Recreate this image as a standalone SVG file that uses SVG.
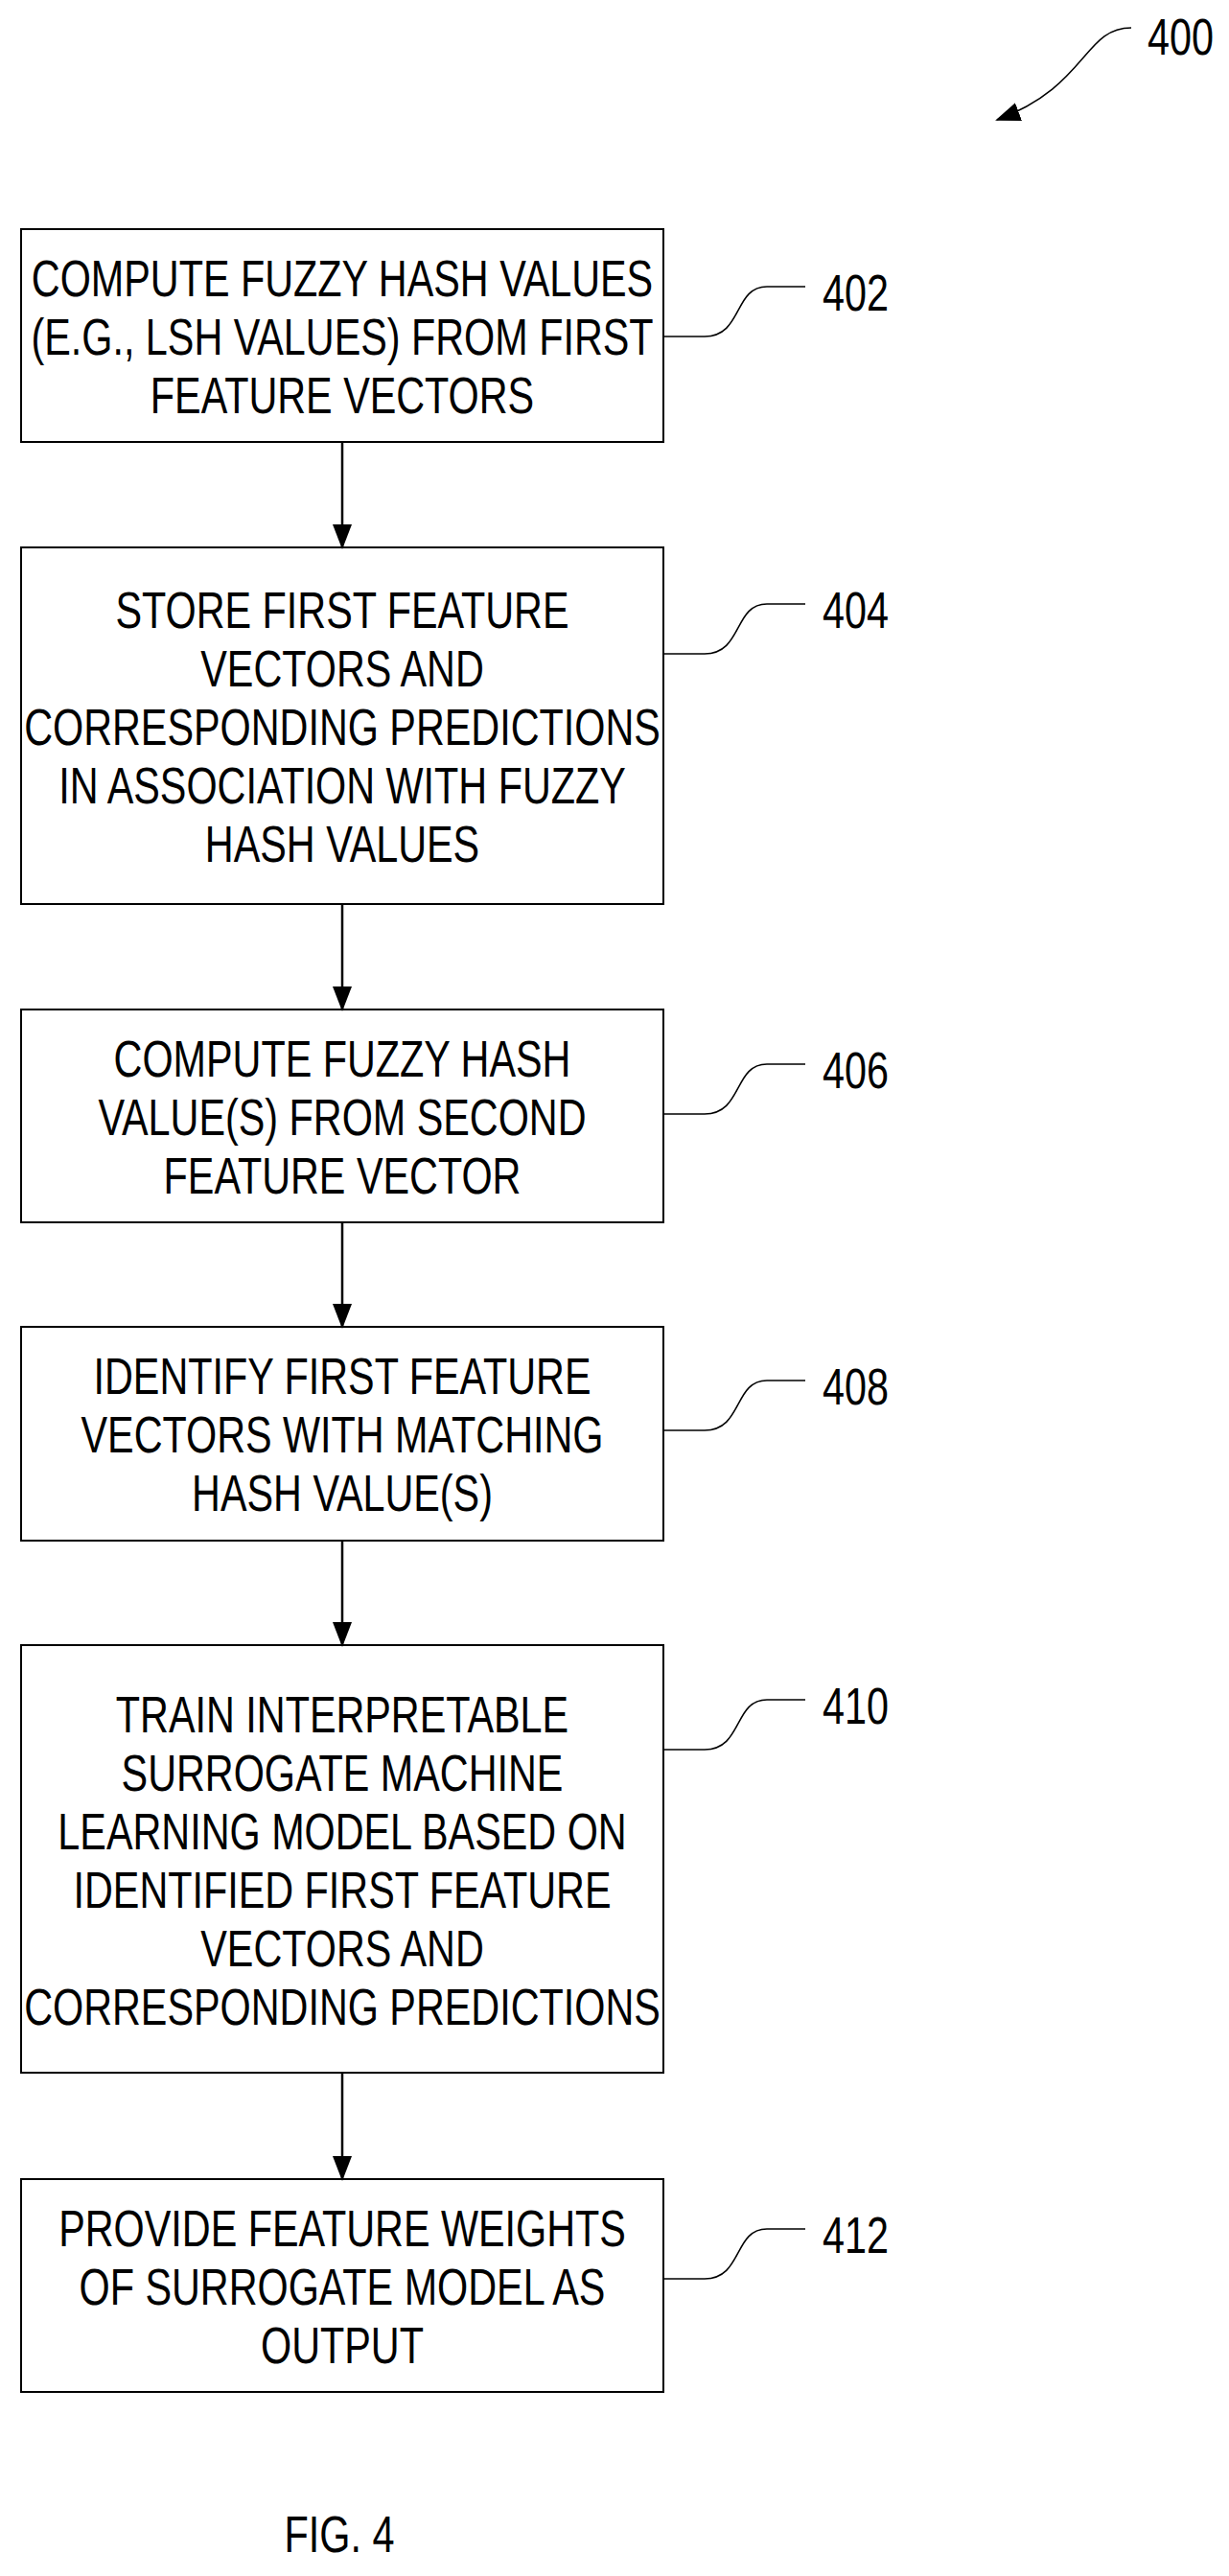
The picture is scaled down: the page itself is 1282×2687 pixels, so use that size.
<svg xmlns="http://www.w3.org/2000/svg" width="1282" height="2687" viewBox="0 0 1282 2687">
<style>
.box{fill:#fff;stroke:#000;stroke-width:2}
.t{font-family:"Liberation Sans",Arial,sans-serif;font-size:53px;text-anchor:middle}
.l{font-family:"Liberation Sans",Arial,sans-serif;font-size:53px}
.c{fill:none;stroke:#000;stroke-width:2.5}
.ld{fill:none;stroke:#000;stroke-width:1.5}
</style>
<defs>
<marker id="ah" markerWidth="26" markerHeight="26" refX="24" refY="13" orient="auto" markerUnits="userSpaceOnUse" viewBox="0 0 26 26"><path d="M0,3 L26,13 L0,23 z"/></marker></defs>
<rect width="1282" height="2687" fill="#fff"/>
<g id="n400"><g transform="translate(1197,57) scale(0.78,1)"><text class="l" x="0" y="0">400</text></g><path class="ld" d="M1180,29 C1130,29 1135,90 1040,125" marker-end="url(#ah)"/></g>
<g id="n402"><rect class="box" x="22" y="239" width="670" height="222"/><g class="t" transform="translate(357,0) scale(0.78,1)"><text x="0" y="309">COMPUTE FUZZY HASH VALUES</text><text x="0" y="370">(E.G., LSH VALUES) FROM FIRST</text><text x="0" y="431">FEATURE VECTORS</text></g>
<path class="ld" d="M692,351 L735,351 C775,351 765,299 800,299 L840,299"/><g transform="translate(858,324) scale(0.78,1)"><text class="l">402</text></g></g>
<g id="n404"><rect class="box" x="22" y="571" width="670" height="372"/><g class="t" transform="translate(357,0) scale(0.78,1)"><text x="0" y="655">STORE FIRST FEATURE</text><text x="0" y="716">VECTORS AND</text><text x="0" y="777">CORRESPONDING PREDICTIONS</text><text x="0" y="838">IN ASSOCIATION WITH FUZZY</text><text x="0" y="899">HASH VALUES</text></g>
<path class="ld" d="M692,682 L735,682 C775,682 765,630 800,630 L840,630"/><g transform="translate(858,655) scale(0.78,1)"><text class="l">404</text></g></g>
<g id="n406"><rect class="box" x="22" y="1053" width="670" height="222"/><g class="t" transform="translate(357,0) scale(0.78,1)"><text x="0" y="1123">COMPUTE FUZZY HASH</text><text x="0" y="1184">VALUE(S) FROM SECOND</text><text x="0" y="1245">FEATURE VECTOR</text></g>
<path class="ld" d="M692,1162 L735,1162 C775,1162 765,1110 800,1110 L840,1110"/><g transform="translate(858,1135) scale(0.78,1)"><text class="l">406</text></g></g>
<g id="n408"><rect class="box" x="22" y="1384" width="670" height="223"/><g class="t" transform="translate(357,0) scale(0.78,1)"><text x="0" y="1454">IDENTIFY FIRST FEATURE</text><text x="0" y="1515">VECTORS WITH MATCHING</text><text x="0" y="1576">HASH VALUE(S)</text></g>
<path class="ld" d="M692,1492 L735,1492 C775,1492 765,1440 800,1440 L840,1440"/><g transform="translate(858,1465) scale(0.78,1)"><text class="l">408</text></g></g>
<g id="n410"><rect class="box" x="22" y="1716" width="670" height="446"/><g class="t" transform="translate(357,0) scale(0.78,1)"><text x="0" y="1807">TRAIN INTERPRETABLE</text><text x="0" y="1868">SURROGATE MACHINE</text><text x="0" y="1929">LEARNING MODEL BASED ON</text><text x="0" y="1990">IDENTIFIED FIRST FEATURE</text><text x="0" y="2051">VECTORS AND</text><text x="0" y="2112">CORRESPONDING PREDICTIONS</text></g>
<path class="ld" d="M692,1825 L735,1825 C775,1825 765,1773 800,1773 L840,1773"/><g transform="translate(858,1798) scale(0.78,1)"><text class="l">410</text></g></g>
<g id="n412"><rect class="box" x="22" y="2273" width="670" height="222"/><g class="t" transform="translate(357,0) scale(0.78,1)"><text x="0" y="2343">PROVIDE FEATURE WEIGHTS</text><text x="0" y="2404">OF SURROGATE MODEL AS</text><text x="0" y="2465">OUTPUT</text></g>
<path class="ld" d="M692,2377 L735,2377 C775,2377 765,2325 800,2325 L840,2325"/><g transform="translate(858,2350) scale(0.78,1)"><text class="l">412</text></g></g>
<g id="connectors">
<path class="c" d="M357,461 V571" marker-end="url(#ah)"/>
<path class="c" d="M357,943 V1053" marker-end="url(#ah)"/>
<path class="c" d="M357,1275 V1384" marker-end="url(#ah)"/>
<path class="c" d="M357,1607 V1716" marker-end="url(#ah)"/>
<path class="c" d="M357,2162 V2273" marker-end="url(#ah)"/>
</g>
<g transform="translate(354,2662) scale(0.78,1)"><text class="t">FIG. 4</text></g>
</svg>
